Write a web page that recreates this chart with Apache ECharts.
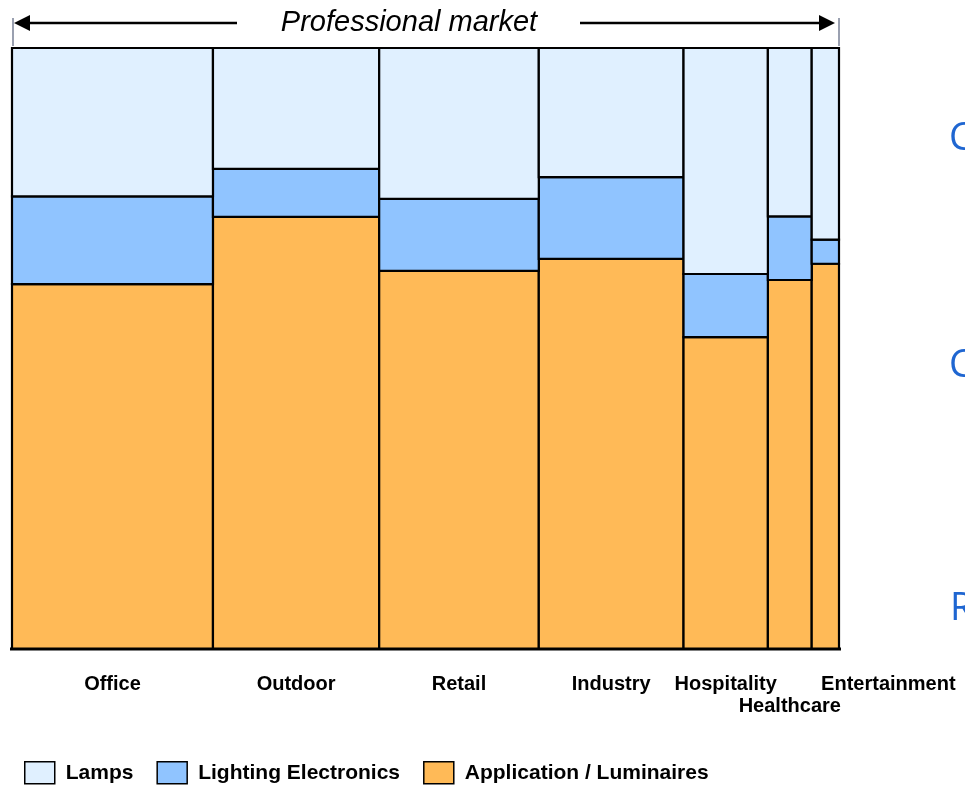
<!DOCTYPE html>
<html>
<head>
<meta charset="utf-8">
<title>Professional market</title>
<script src="https://cdn.jsdelivr.net/npm/echarts@6/dist/echarts.min.js"></script>
<style>
  html, body { margin: 0; padding: 0; background: #fff; }
  #chart { width: 965px; height: 785px; }
</style>
</head>
<body>
<div id="chart"></div>
<script>
// Segments of the professional lighting market (share of total, %)
const categories = ['Office', 'Outdoor', 'Retail', 'Industry', 'Hospitality', 'Healthcare', 'Entertainment'];
const marketShare = [24.3, 20.1, 19.3, 17.5, 10.2, 5.3, 3.3];

// Value split inside each segment (%), bottom to top
const luminaires = [60.7, 71.9, 62.9, 64.9, 51.9, 61.4, 64.1];
const electronics = [14.6, 8.0, 12.0, 13.6, 10.5, 10.6, 4.0];
const lamps = [24.7, 20.1, 25.1, 21.5, 37.6, 28.0, 31.9];

const layerNames = ['Lamps', 'Lighting Electronics', 'Application / Luminaires'];
const layerColors = { 'Lamps': '#e0f0ff', 'Lighting Electronics': '#90c4ff', 'Application / Luminaires': '#ffba57' };

// Left edge of every column along the 0-100 axis
const xStart = [];
marketShare.reduce((acc, w, i) => { xStart[i] = acc; return acc + w; }, 0);

// Each rectangle: [x0, x1, y0, y1]
function layerData(values, below) {
  return values.map((v, i) => {
    const y0 = below.reduce((s, arr) => s + arr[i], 0);
    return [xStart[i], xStart[i] + marketShare[i], y0, y0 + v];
  });
}

function renderRect(params, api) {
  const p0 = api.coord([api.value(0), api.value(2)]);
  const p1 = api.coord([api.value(1), api.value(3)]);
  return {
    type: 'rect',
    shape: { x: p0[0], y: p1[1], width: p1[0] - p0[0], height: p0[1] - p1[1] },
    style: { fill: api.visual('color'), stroke: '#000', lineWidth: 2.2 }
  };
}

// Category label placement under the columns (pixel offsets)
const labelShift = { 'Healthcare': [0, 57], 'Entertainment': [63, 35] };

const labelData = categories.map((c, i) => [xStart[i] + marketShare[i] / 2, i]);

function renderLabel(params, api) {
  const name = categories[api.value(1)];
  const base = api.coord([api.value(0), 0]);
  const shift = labelShift[name] || [0, 35];
  return {
    type: 'text',
    x: base[0] + shift[0],
    y: base[1] + shift[1],
    style: {
      text: name,
      fill: '#000',
      font: 'bold 20px "Liberation Sans", Arial, sans-serif',
      align: 'center',
      verticalAlign: 'middle'
    }
  };
}

const chart = echarts.init(document.getElementById('chart'), null, { renderer: 'canvas' });

const option = {
  animation: false,
  backgroundColor: '#fff',
  grid: { left: 12, right: 126, top: 48, bottom: 136 },
  xAxis: {
    type: 'value', min: 0, max: 100,
    axisLine: { show: false }, axisTick: { show: false },
    axisLabel: { show: false }, splitLine: { show: false }
  },
  yAxis: {
    type: 'value', min: 0, max: 100,
    axisLine: { show: false }, axisTick: { show: false },
    axisLabel: { show: false }, splitLine: { show: false }
  },
  legend: {
    data: layerNames,
    left: 19,
    top: 756,
    icon: 'rect',
    itemWidth: 30,
    itemHeight: 22,
    itemGap: 23,
    itemStyle: { borderColor: '#000', borderWidth: 1.5 },
    textStyle: {
      fontFamily: '"Liberation Sans", Arial, sans-serif',
      fontWeight: 'bold',
      fontSize: 21,
      color: '#000',
      padding: [0, 0, 0, 6]
    }
  },
  series: [
    {
      name: 'Application / Luminaires', type: 'custom', renderItem: renderRect,
      itemStyle: { color: layerColors['Application / Luminaires'] },
      encode: { x: [0, 1], y: [2, 3] },
      data: layerData(luminaires, [])
    },
    {
      name: 'Lighting Electronics', type: 'custom', renderItem: renderRect,
      itemStyle: { color: layerColors['Lighting Electronics'] },
      encode: { x: [0, 1], y: [2, 3] },
      data: layerData(electronics, [luminaires])
    },
    {
      name: 'Lamps', type: 'custom', renderItem: renderRect,
      itemStyle: { color: layerColors['Lamps'] },
      encode: { x: [0, 1], y: [2, 3] },
      data: layerData(lamps, [luminaires, electronics])
    },
    {
      name: 'labels', type: 'custom', renderItem: renderLabel,
      silent: true, clip: false,
      encode: { x: 0, y: 1 },
      data: labelData
    }
  ],
  graphic: [
    // baseline under the columns
    { type: 'line', shape: { x1: 10, y1: 649, x2: 841, y2: 649 }, style: { stroke: '#000', lineWidth: 3 }, z: 10 },
    // bracket ends of the market span
    { type: 'line', shape: { x1: 13, y1: 18, x2: 13, y2: 46 }, style: { stroke: '#9aa0b0', lineWidth: 2 } },
    { type: 'line', shape: { x1: 839, y1: 18, x2: 839, y2: 46 }, style: { stroke: '#9aa0b0', lineWidth: 2 } },
    // left arrow
    { type: 'line', shape: { x1: 28, y1: 23, x2: 237, y2: 23 }, style: { stroke: '#000', lineWidth: 2.5 } },
    { type: 'polygon', shape: { points: [[14, 23], [30, 15], [30, 31]] }, style: { fill: '#000' } },
    // right arrow
    { type: 'line', shape: { x1: 580, y1: 23, x2: 822, y2: 23 }, style: { stroke: '#000', lineWidth: 2.5 } },
    { type: 'polygon', shape: { points: [[835, 23], [819, 15], [819, 31]] }, style: { fill: '#000' } },
    {
      type: 'text', x: 409, y: 23,
      style: {
        text: 'Professional market', fill: '#000',
        font: 'italic 29px "Liberation Sans", Arial, sans-serif',
        align: 'center', verticalAlign: 'middle'
      }
    },
    // side captions running off the right edge
    { type: 'text', x: 949, y: 139, style: { text: 'C', fill: '#1f66d1', font: '38px "Open Sans", "Noto Sans", sans-serif', verticalAlign: 'middle' } },
    { type: 'text', x: 949, y: 366, style: { text: 'C', fill: '#1f66d1', font: '38px "Open Sans", "Noto Sans", sans-serif', verticalAlign: 'middle' } },
    { type: 'text', x: 950, y: 609, style: { text: 'R', fill: '#1f66d1', font: '38px "Open Sans", "Noto Sans", sans-serif', verticalAlign: 'middle' } }
  ]
};

chart.setOption(option);
</script>
</body>
</html>
